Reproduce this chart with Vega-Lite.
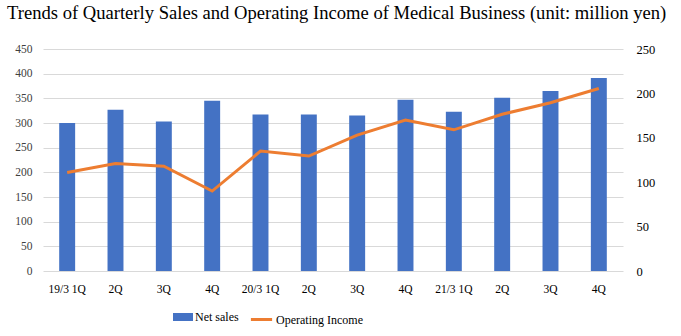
{
  "$schema": "https://vega.github.io/schema/vega-lite/v6.json",
  "autosize": {"type": "none"},
  "width": 580,
  "height": 222,
  "padding": {"left": 43, "top": 49, "right": 58, "bottom": 65},
  "background": "white",
  "title": {
    "text": "Trends of Quarterly Sales and Operating Income of Medical Business (unit: million yen)",
    "anchor": "start",
    "frame": "group",
    "dx": -36,
    "offset": 20,
    "font": "Liberation Serif",
    "fontSize": 18.6,
    "fontWeight": "normal",
    "color": "#000000"
  },
  "config": {
    "view": {"stroke": null},
    "axis": {"labelFont": "Liberation Serif", "labelFontSize": 12, "labelColor": "#404040", "domain": false, "ticks": false, "title": null},
    "legend": {"labelFont": "Liberation Serif", "labelFontSize": 12, "labelColor": "#000000"}
  },
  "data": {
    "values": [
      {"period": "19/3 1Q", "sales": 300, "income": 111},
      {"period": "19/3 2Q", "sales": 327, "income": 121},
      {"period": "19/3 3Q", "sales": 303, "income": 118},
      {"period": "19/3 4Q", "sales": 345, "income": 90},
      {"period": "20/3 1Q", "sales": 317, "income": 135},
      {"period": "20/3 2Q", "sales": 317, "income": 129.5},
      {"period": "20/3 3Q", "sales": 315, "income": 153},
      {"period": "20/3 4Q", "sales": 347, "income": 170},
      {"period": "21/3 1Q", "sales": 323, "income": 159},
      {"period": "21/3 2Q", "sales": 351, "income": 176.5},
      {"period": "21/3 3Q", "sales": 365, "income": 189.5},
      {"period": "21/3 4Q", "sales": 391, "income": 205.5}
    ]
  },
  "encoding": {
    "x": {
      "field": "period",
      "type": "ordinal",
      "sort": null,
      "scale": {"paddingInner": 0.67, "paddingOuter": 0.335},
      "axis": {
        "labelAngle": 0,
        "labelPadding": 12,
        "labelFontSize": 11.5,
        "grid": false,
        "labelColor": "#000000",
        "labelExpr": "indexof(datum.value, '1Q') >= 0 ? datum.value : slice(datum.value, 5)"
      }
    }
  },
  "layer": [
    {
      "mark": {"type": "bar", "color": "#4472C4"},
      "encoding": {
        "y": {
          "field": "sales",
          "type": "quantitative",
          "scale": {"domain": [0, 450], "nice": false},
          "axis": {"values": [0, 50, 100, 150, 200, 250, 300, 350, 400, 450], "gridColor": "#d9d9d9", "labelPadding": 11, "labelFontSize": 11.5, "labelColor": "#404040"}
        },
        "fill": {
          "datum": "Net sales",
          "type": "nominal",
          "scale": {"range": ["#4472C4"]},
          "legend": {
            "orient": "none",
            "legendX": 130,
            "legendY": 258,
            "title": null,
            "symbolType": "M-1,-0.4H1V0.4H-1Z",
            "symbolSize": 400,
            "symbolStrokeWidth": 0,
            "labelOffset": 2
          }
        }
      }
    },
    {
      "mark": {"type": "line", "color": "#ED7D31", "strokeWidth": 3},
      "encoding": {
        "y": {
          "field": "income",
          "type": "quantitative",
          "scale": {"domain": [0, 250], "nice": false},
          "axis": {"orient": "right", "values": [0, 50, 100, 150, 200, 250], "grid": false, "labelPadding": 13, "labelFontSize": 12.5, "labelColor": "#000000"}
        },
        "stroke": {
          "datum": "Operating Income",
          "type": "nominal",
          "scale": {"range": ["#ED7D31"]},
          "legend": {
            "orient": "none",
            "legendX": 206,
            "legendY": 258,
            "title": null,
            "symbolType": "stroke",
            "symbolSize": 450,
            "symbolStrokeWidth": 3,
            "labelOffset": 2
          }
        }
      }
    }
  ],
  "resolve": {"scale": {"y": "independent", "fill": "independent", "stroke": "independent"}}
}
